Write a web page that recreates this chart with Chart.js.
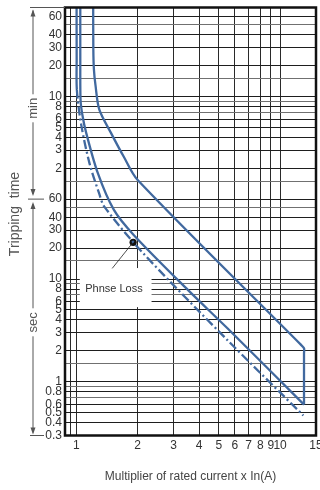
<!DOCTYPE html>
<html>
<head>
<meta charset="utf-8">
<script src="https://cdn.jsdelivr.net/npm/chart.js@4.4.1/dist/chart.umd.min.js"></script>
<style>
  html, body { margin: 0; padding: 0; background: #fff; }
  #wrap { width: 320px; height: 490px; position: relative; }
</style>
</head>
<body>
<div id="wrap"><canvas id="c"></canvas></div>
<script>
// ── DATA ─────────────────────────────────────────────────────────────
// multiplier of rated current
const xTicks = [0.94, 1, 2, 3, 4, 5, 6, 7, 8, 9, 10, 15]
const xLabels = [1, 2, 3, 4, 5, 6, 7, 8, 9, 10, 15]

// tripping time, in seconds (min region shown as minutes)
const yTicks = [3600, 3000, 2400, 1800, 1200, 900, 600, 540, 480, 420, 360, 300, 240, 180, 120, 90,
  60, 50, 40, 30, 20, 15, 10, 9, 8, 7, 6, 5, 4, 3, 2, 1.5, 1, 0.9, 0.8, 0.7, 0.6, 0.5, 0.4, 0.3]
const yLabels = [3600, 2400, 1800, 1200, 600, 480, 360, 300, 240, 180, 120,
  60, 40, 30, 20, 10, 8, 6, 5, 4, 3, 2, 1, 0.8, 0.6, 0.5, 0.4, 0.3]

// upper (cold) curve
const coldX = [1.21, 1.212, 1.22, 1.241, 1.297, 1.479, 1.71, 2.0, 12.6, 13.1, 13.1, 13.1]
const coldY = [5000, 1714, 1100, 781, 445, 265, 155, 92, 2.31, 2.12, 1.9, 0.6]
// lower (hot) curve
const hotX = [1.046, 1.046, 1.049, 1.07, 1.118, 1.274, 1.529, 1.912, 3.536, 5.53, 13.1]
const hotY = [5000, 1368, 557, 400, 265, 108, 47.1, 26.9, 7.8, 3.3, 0.6]
// phase loss curve (dash-dot)
const phaseX = [1.003, 1.004, 1.006, 1.057, 1.16, 1.293, 1.372, 2.098, 5.53, 13.0]
const phaseY = [5000, 1400, 698, 318, 134.5, 68.5, 50.7, 18.4, 2.53, 0.47]

// "Phnse Loss" callout
const dotX = [1.9], dotY = [22.8]
const leaderX = [1.9, 1.5], leaderY = [22.8, 12.7]
const boxX = [1.04, 2.34], boxY = [12.8, 5.33]
const calloutAt = [1.53, 8.0]

const BLUE = '#41699f'
const FONT = '"Liberation Sans", Arial, sans-serif'
Chart.defaults.font.family = FONT

const pts = (xs, ys) => xs.map((x, i) => ({ x, y: ys[i] }))

function arrow(ctx, x, tip, dir) {
  // dir -1 = pointing up, 1 = pointing down
  ctx.beginPath()
  ctx.moveTo(x, tip)
  ctx.lineTo(x - 2.5, tip - dir * 7)
  ctx.lineTo(x + 2.5, tip - dir * 7)
  ctx.closePath()
  ctx.fill()
}
function line(ctx, x1, y1, x2, y2) {
  ctx.beginPath(); ctx.moveTo(x1, y1); ctx.lineTo(x2, y2); ctx.stroke()
}
function vtext(ctx, s, x, y) {
  ctx.save(); ctx.translate(x, y); ctx.rotate(-Math.PI / 2)
  ctx.fillText(s, 0, 0); ctx.restore()
}

const extras = {
  id: 'extras',
  beforeDatasetsDraw(chart) {
    const { ctx, scales: { x, y } } = chart
    const l = x.getPixelForValue(boxX[0]), r = x.getPixelForValue(boxX[1])
    const t = y.getPixelForValue(boxY[0]), b = y.getPixelForValue(boxY[1])
    ctx.save()
    ctx.fillStyle = '#fff'
    ctx.fillRect(l, t, r - l, b - t)
    ctx.fillStyle = '#333'
    ctx.font = '11px ' + FONT
    ctx.textAlign = 'center'
    ctx.textBaseline = 'middle'
    ctx.fillText('Phnse Loss', x.getPixelForValue(calloutAt[0]), y.getPixelForValue(calloutAt[1]))
    ctx.restore()
  },
  afterDatasetsDraw(chart) {
    const { ctx, chartArea: a } = chart
    ctx.save()
    ctx.strokeStyle = '#111'
    ctx.lineWidth = 2.5
    ctx.strokeRect(a.left, a.top, a.right - a.left, a.bottom - a.top)
    ctx.restore()
  },
  afterDraw(chart) {
    const { ctx, chartArea: a, scales: { y } } = chart
    const ax = 33
    const top = a.top, bot = a.bottom, y60 = y.getPixelForValue(60)
    const ym = (top + y60) / 2 + 5, ys = (y60 + bot) / 2 + 5
    ctx.save()
    ctx.strokeStyle = '#555'
    ctx.fillStyle = '#555'
    ctx.lineWidth = 1
    // min span
    line(ctx, 30, top, a.left, top)
    line(ctx, ax, top + 3, ax, ym - 14)
    arrow(ctx, ax, top + 2, -1)
    line(ctx, ax, ym + 14, ax, y60 - 5)
    arrow(ctx, ax, y60 - 3, 1)
    line(ctx, 28, y60, 44, y60)
    // sec span
    arrow(ctx, ax, y60 + 3, -1)
    line(ctx, ax, y60 + 5, ax, ys - 14)
    line(ctx, ax, ys + 14, ax, bot - 3)
    arrow(ctx, ax, bot - 1, 1)
    line(ctx, 30, bot, 44, bot)
    ctx.font = '13px ' + FONT
    ctx.textAlign = 'center'
    ctx.textBaseline = 'middle'
    vtext(ctx, 'min', ax, ym)
    vtext(ctx, 'sec', ax, ys)
    ctx.font = '14px ' + FONT
    vtext(ctx, 'Tripping  time', 15, 214)
    ctx.restore()
  }
}

const gridColor = (list) => (c) => (c.tick && list.includes(c.tick.value)) ? '#1e1e1e' : '#707070'
const curve = { showLine: true, borderColor: BLUE, borderWidth: 2.3, pointRadius: 0, tension: 0.3 }

new Chart(document.getElementById('c'), {
  type: 'scatter',
  data: {
    datasets: [
      { ...curve, data: pts(coldX, coldY) },
      { ...curve, data: pts(hotX, hotY) },
      {
        ...curve, data: pts(phaseX, phaseY),
        borderDash: [9, 3, 2, 3],
        segment: { borderDash: c => c.p0DataIndex < 2 ? [] : undefined }
      },
      { data: pts(leaderX, leaderY), showLine: true, borderColor: '#222', borderWidth: 0.8, pointRadius: 0 },
      { data: pts(dotX, dotY), pointRadius: 3.6, pointBackgroundColor: '#111', pointBorderWidth: 0 }
    ]
  },
  options: {
    responsive: true,
    maintainAspectRatio: false,
    animation: false,
    layout: { padding: { top: 7.5, right: 2, left: 0, bottom: 0 } },
    plugins: { legend: { display: false }, tooltip: { enabled: false } },
    scales: {
      x: {
        type: 'logarithmic',
        min: 0.88, max: 15,
        afterBuildTicks: s => { s.ticks = xTicks.map(v => ({ value: v })) },
        afterFit: s => { s.height = 54.5; s.paddingLeft = 0; s.paddingRight = 0 },
        grid: { color: '#2a2a2a', lineWidth: 1, drawTicks: false },
        border: { display: false },
        ticks: {
          autoSkip: false, maxRotation: 0, minRotation: 0, padding: 3,
          color: '#333', font: { size: 12 },
          callback: v => xLabels.includes(v) ? String(v) : ''
        },
        title: {
          display: true, text: 'Multiplier of rated current x In(A)',
          color: '#444', font: { size: 12 }, padding: { top: 0, bottom: 6 }
        }
      },
      y: {
        type: 'logarithmic',
        min: 0.3, max: 4400,
        afterBuildTicks: s => { s.ticks = yTicks.map(v => ({ value: v })) },
        afterFit: s => { s.width = 65; s.paddingTop = 0; s.paddingBottom = 0 },
        grid: { color: gridColor(yLabels), lineWidth: 1, drawTicks: false },
        border: { display: false },
        ticks: {
          autoSkip: false, padding: 3, color: '#333', font: { size: 12 },
          callback: v => yLabels.includes(v) ? String(v >= 120 ? v / 60 : v) : ''
        }
      }
    }
  },
  plugins: [extras]
})
</script>
</body>
</html>
